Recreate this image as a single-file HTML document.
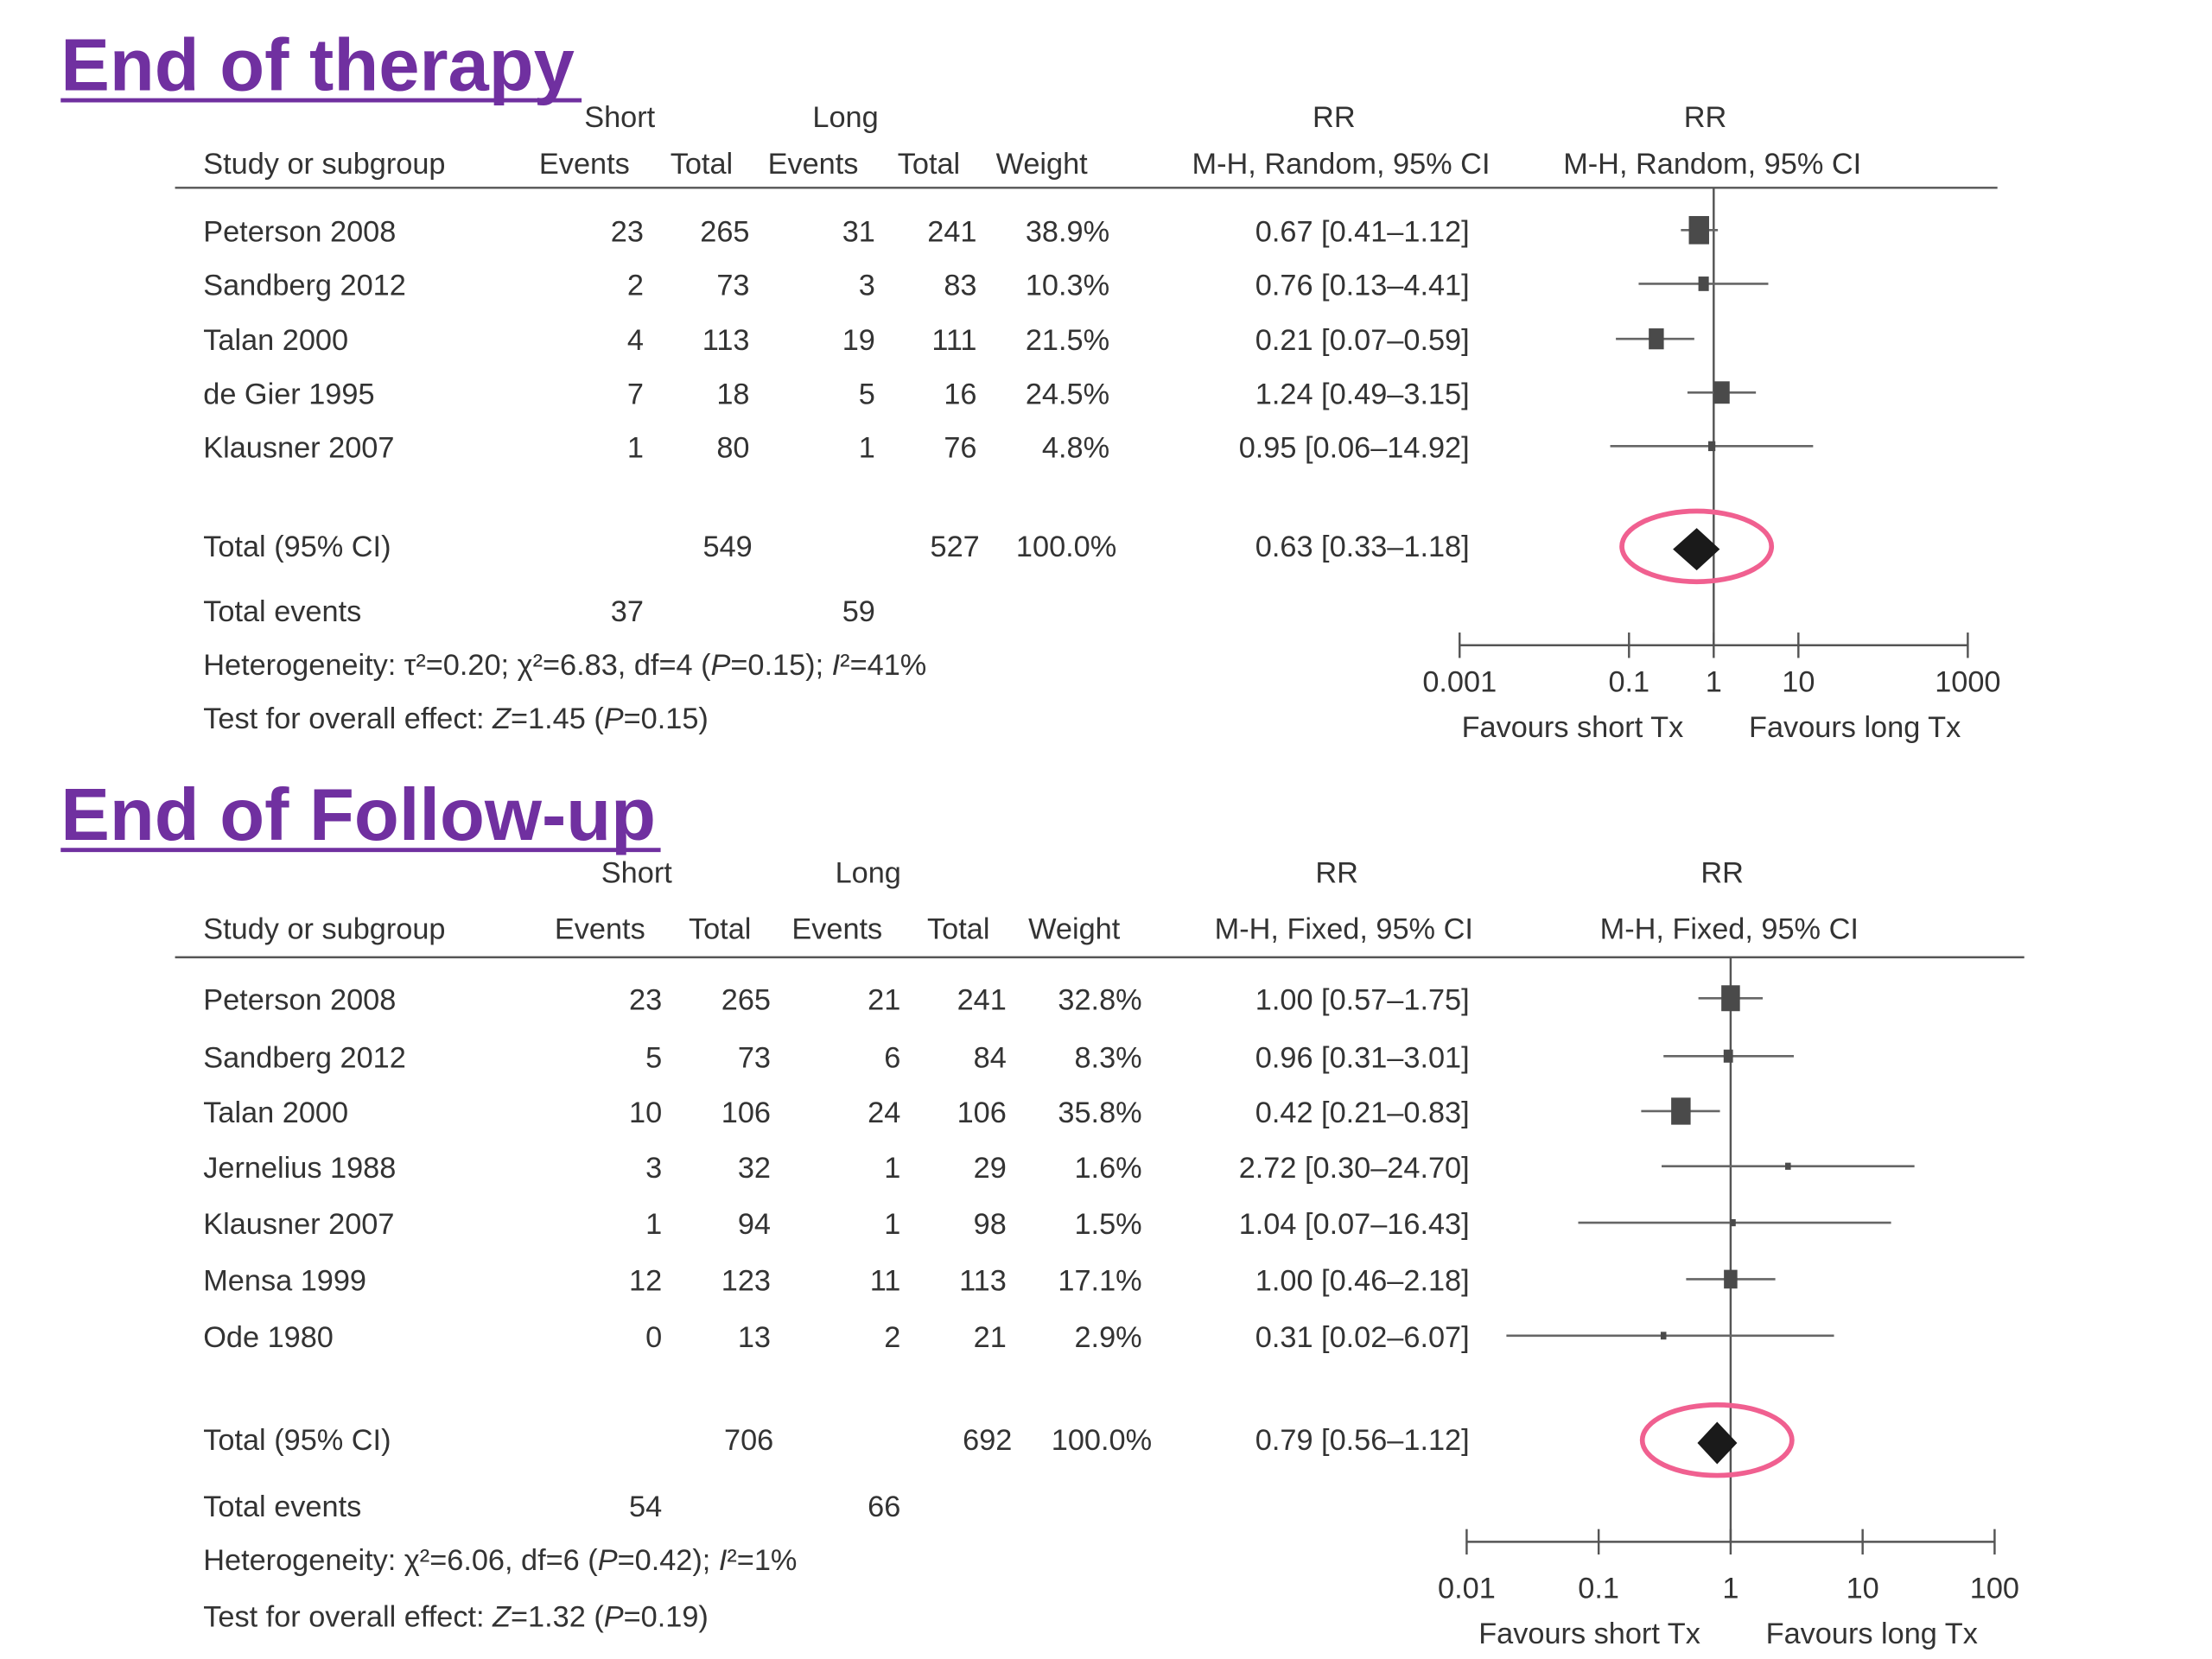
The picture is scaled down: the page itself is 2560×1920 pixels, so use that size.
<!DOCTYPE html>
<html><head><meta charset="utf-8">
<style>
html,body{margin:0;padding:0;background:#fff;}
svg{display:block;}
text{font-family:"Liberation Sans",sans-serif;fill:#333;}
</style></head>
<body>
<svg id="chart" width="2560" height="1920" viewBox="0 0 1567 1175" preserveAspectRatio="none" xmlns="http://www.w3.org/2000/svg"></svg>
<script>
// Panel 1: End of therapy
const p1Studies = ["Peterson 2008","Sandberg 2012","Talan 2000","de Gier 1995","Klausner 2007"];
const p1ShortEv = [23,2,4,7,1];
const p1ShortTot = [265,73,113,18,80];
const p1LongEv = [31,3,19,5,1];
const p1LongTot = [241,83,111,16,76];
const p1Weight = [38.9,10.3,21.5,24.5,4.8];
const p1RR = [0.67,0.76,0.21,1.24,0.95];
const p1Lo = [0.41,0.13,0.07,0.49,0.06];
const p1Hi = [1.12,4.41,0.59,3.15,14.92];
const p1Total = [0.63,0.33,1.18];
const p1Ticks = [0.001,0.1,1,10,1000];
const p1TickLabels = ["0.001","0.1","1","10","1000"];
// Panel 2: End of follow-up
const p2Studies = ["Peterson 2008","Sandberg 2012","Talan 2000","Jernelius 1988","Klausner 2007","Mensa 1999","Ode 1980"];
const p2ShortEv = [23,5,10,3,1,12,0];
const p2ShortTot = [265,73,106,32,94,123,13];
const p2LongEv = [21,6,24,1,1,11,2];
const p2LongTot = [241,84,106,29,98,113,21];
const p2Weight = [32.8,8.3,35.8,1.6,1.5,17.1,2.9];
const p2RR = [1.00,0.96,0.42,2.72,1.04,1.00,0.31];
const p2Lo = [0.57,0.31,0.21,0.30,0.07,0.46,0.02];
const p2Hi = [1.75,3.01,0.83,24.70,16.43,2.18,6.07];
const p2Total = [0.79,0.56,1.12];
const p2Ticks = [0.01,0.1,1,10,100];
const p2TickLabels = ["0.01","0.1","1","10","100"];

const svg = document.getElementById('chart');
const NS = "http://www.w3.org/2000/svg";
function mk(tag, attrs, parent){
  const e = document.createElementNS(NS, tag);
  for (const k in attrs) e.setAttribute(k, attrs[k]);
  (parent||svg).appendChild(e);
  return e;
}
function txt(x,y,s,anchor,size,name){
  const t = mk('text',{x:x,y:y,'font-size':size||21,'text-anchor':anchor||'start'});
  t.innerHTML = s;
  
  
  return t;
}
const fmt = v => v.toFixed(2);
const pct = v => v.toFixed(1)+'%';

function panel(cfg){
  const xs = v => cfg.x1 + cfg.ppd*Math.log10(v);
  const ti = txt(43, cfg.titleY, cfg.title, 'start', 52, 'panel-title');
  ti.setAttribute('font-weight','bold'); ti.style.fill='#7030a0';
  const ul = mk('line',{x1:43,x2:cfg.titleEnd,y1:cfg.titleY+7,y2:cfg.titleY+7,stroke:'#7030a0','stroke-width':3});
  
  
  const h1 = cfg.hY, h2 = cfg.hY+cfg.hGap;
  txt(cfg.hc[0],h1,'Short','middle',21,'short-group-header');
  txt(cfg.hc[1],h1,'Long','middle',21,'long-group-header');
  txt(cfg.hc[2],h1,'RR','middle',21,'rr-header');
  txt(cfg.hc[3],h1,'RR','middle',21,'rr-plot-header');
  txt(144,h2,'Study or subgroup','start',21,'study-header');
  txt(cfg.hc[4],h2,'Events','middle',21,'short-events-header');
  txt(cfg.hc[5],h2,'Total','middle',21,'short-total-header');
  txt(cfg.hc[6],h2,'Events','middle',21,'long-events-header');
  txt(cfg.hc[7],h2,'Total','middle',21,'long-total-header');
  txt(cfg.hc[8],h2,'Weight','middle',21,'weight-header');
  txt(cfg.hc[9],h2,cfg.method,'middle',21,'rr-method-header');
  txt(cfg.hc[10],h2,cfg.method,'middle',21,'plot-method-header');
  const hl = mk('line',{x1:124,x2:cfg.lineEnd,y1:cfg.lineY,y2:cfg.lineY,stroke:'#555','stroke-width':1.5});
  
  
  const nl = mk('line',{x1:xs(1),x2:xs(1),y1:cfg.lineY,y2:cfg.axisY,stroke:'#555','stroke-width':1.5});
  
  
  const r = cfg.right;
  cfg.studies.forEach((s,i)=>{
    const y = cfg.rows[i];
    txt(144,y,s,'start',21,'study-name');
    txt(r[0],y,cfg.se[i],'end',21,'short-events');
    txt(r[1],y,cfg.st[i],'end',21,'short-total');
    txt(r[2],y,cfg.le[i],'end',21,'long-events');
    txt(r[3],y,cfg.lt[i],'end',21,'long-total');
    txt(r[4],y,pct(cfg.w[i]),'end',21,'weight');
    txt(r[5],y,fmt(cfg.rr[i])+' ['+fmt(cfg.lo[i])+'–'+fmt(cfg.hi[i])+']','end',21,'rr-ci');
    const my = y-8;
    const ci = mk('line',{x1:xs(cfg.lo[i]),x2:xs(cfg.hi[i]),y1:my,y2:my,stroke:'#666','stroke-width':1.6});
    
    
    const sw = Math.max(4,Math.sqrt(cfg.w[i])*2.3), sh = Math.max(5,Math.sqrt(cfg.w[i])*3.2);
    const sq = mk('rect',{x:xs(cfg.rr[i])-sw/2,y:my-sh/2,width:sw,height:sh,fill:'#4a4a4a'});
    
    
  });
  const ty = cfg.totalY;
  txt(144,ty,'Total (95% CI)','start',21,'total-label');
  txt(cfg.totRight[0],ty,cfg.sumS,'end',21,'short-total-sum');
  txt(cfg.totRight[1],ty,cfg.sumL,'end',21,'long-total-sum');
  txt(cfg.totRight[2],ty,'100.0%','end',21,'total-weight');
  txt(r[5],ty,fmt(cfg.tot[0])+' ['+fmt(cfg.tot[1])+'–'+fmt(cfg.tot[2])+']','end',21,'total-rr-ci');
  const dy = ty-5, dh = 15;
  const d = mk('polygon',{points:[xs(cfg.tot[1])+','+dy, xs(cfg.tot[0])+','+(dy-dh), xs(cfg.tot[2])+','+dy, xs(cfg.tot[0])+','+(dy+dh)].join(' '),fill:'#1a1a1a'});
  
  
  const el = mk('ellipse',{cx:xs(cfg.tot[0]),cy:dy-2,rx:53,ry:25,fill:'none',stroke:'#f06090','stroke-width':3.5});
  
  
  txt(144,cfg.evY,'Total events','start',21,'total-events-label');
  txt(r[0],cfg.evY,cfg.evS,'end',21,'short-total-events');
  txt(r[2],cfg.evY,cfg.evL,'end',21,'long-total-events');
  txt(144,cfg.evY+38,cfg.het,'start',21,'heterogeneity');
  txt(144,cfg.evY+38+cfg.gap,cfg.test,'start',21,'overall-effect');
  const ax = mk('line',{x1:xs(cfg.ticks[0]),x2:xs(cfg.ticks[cfg.ticks.length-1]),y1:cfg.axisY,y2:cfg.axisY,stroke:'#555','stroke-width':1.5});
  
  
  cfg.ticks.forEach((t,i)=>{
    const tk = mk('line',{x1:xs(t),x2:xs(t),y1:cfg.axisY-9,y2:cfg.axisY+9,stroke:'#555','stroke-width':1.5});
    
    
    txt(xs(t),cfg.axisY+cfg.labOff,cfg.tickLabels[i],'middle',21,'x-tick-label');
  });
  txt(xs(1)-100,cfg.axisY+cfg.favOff,'Favours short Tx','middle',21,'favours-short-label');
  txt(xs(1)+100,cfg.axisY+cfg.favOff,'Favours long Tx','middle',21,'favours-long-label');
}

panel({title:'End of therapy',titleY:64,titleEnd:412,hY:90,hGap:33,method:'M-H, Random, 95% CI',
  hc:[439,599,945,1208,414,497,576,658,738,950,1213],lineY:133,lineEnd:1415,
  x1:1214,ppd:60,axisY:457,labOff:33,favOff:65,rows:[171,209,248,286,324],right:[456,531,620,692,786,1041],
  studies:p1Studies,se:p1ShortEv,st:p1ShortTot,le:p1LongEv,lt:p1LongTot,w:p1Weight,rr:p1RR,lo:p1Lo,hi:p1Hi,
  totalY:394,totRight:[533,694,791],sumS:549,sumL:527,tot:p1Total,evY:440,evS:37,evL:59,gap:38,
  het:'Heterogeneity: τ²=0.20; χ²=6.83, df=4 (<tspan font-style="italic">P</tspan>=0.15); <tspan font-style="italic">I</tspan>²=41%',
  test:'Test for overall effect: <tspan font-style="italic">Z</tspan>=1.45 (<tspan font-style="italic">P</tspan>=0.15)',
  ticks:p1Ticks,tickLabels:p1TickLabels});
panel({title:'End of Follow-up',titleY:595,titleEnd:468,hY:625,hGap:40,method:'M-H, Fixed, 95% CI',
  hc:[451,615,947,1220,425,510,593,679,761,952,1225],lineY:678,lineEnd:1434,
  x1:1226,ppd:93.5,axisY:1092,labOff:40,favOff:72,rows:[715,756,795,834,874,914,954],right:[469,546,638,713,809,1041],
  studies:p2Studies,se:p2ShortEv,st:p2ShortTot,le:p2LongEv,lt:p2LongTot,w:p2Weight,rr:p2RR,lo:p2Lo,hi:p2Hi,
  totalY:1027,totRight:[548,717,816],sumS:706,sumL:692,tot:p2Total,evY:1074,evS:54,evL:66,gap:40,
  het:'Heterogeneity: χ²=6.06, df=6 (<tspan font-style="italic">P</tspan>=0.42); <tspan font-style="italic">I</tspan>²=1%',
  test:'Test for overall effect: <tspan font-style="italic">Z</tspan>=1.32 (<tspan font-style="italic">P</tspan>=0.19)',
  ticks:p2Ticks,tickLabels:p2TickLabels});
</script>
</body></html>
